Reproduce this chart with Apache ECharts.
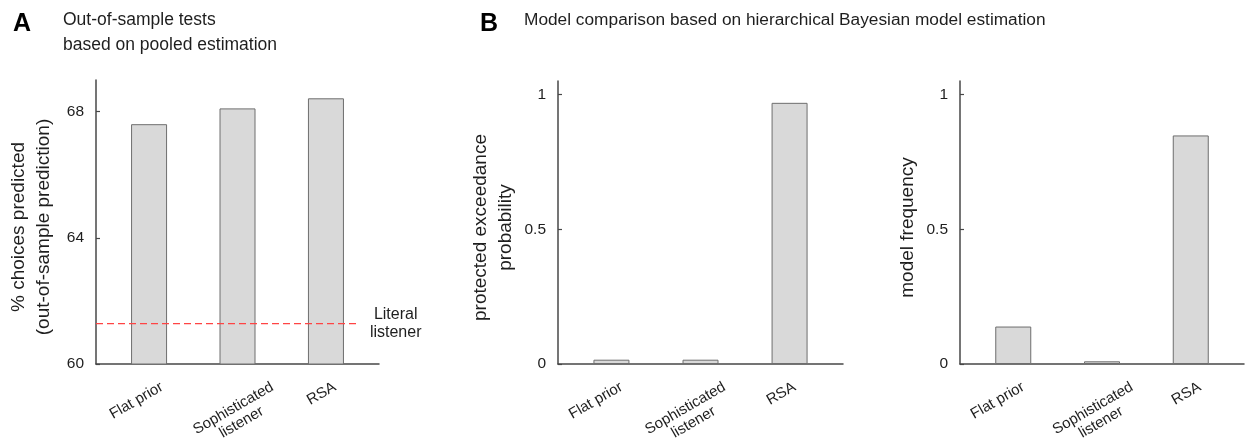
<!DOCTYPE html>
<html><head><meta charset="utf-8">
<script src="https://cdn.jsdelivr.net/npm/echarts@6/dist/echarts.min.js"></script>
<style>html,body{margin:0;padding:0;background:#fff}#c{width:1245px;height:442px}</style>
</head><body><div id="c"></div>
<script>
// ---- data ----
const categories = ['Flat prior', 'Sophisticated\nlistener', 'RSA'];
const categoryX = [1, 2, 3];
const pctPredicted = [67.6, 68.1, 68.42];
const literalListener = 61.28;
const literalLineX = [0.4, 3.35];
const exceedanceProb = [0.016, 0.016, 0.969];
const modelFrequency = [0.139, 0.010, 0.848];
const ticksA = [60, 64, 68];
const ticksB = [0, 0.5, 1];
const ticksBLabels = ['0', '0.5', '1'];

// ---- style ----
const FONT = 'Liberation Sans, Arial, Helvetica, sans-serif';
const TEXT = '#1e1e1e';
const AXIS = '#474747';
const BAR_FILL = '#d9d9d9';
const BAR_EDGE = '#6e6e6e';
const grids = [
  {left: 96, top: 80, width: 283, height: 284},
  {left: 558, top: 81, width: 285, height: 283},
  {left: 960, top: 81, width: 284, height: 283}
];
// label anchor nudges (px) per panel, to mimic original label placement
const labelNudge = [[9, 31, 5], [6, 20, 1], [6, 26, 5]];

function xAxisFor(gi) {
  const ppu = grids[gi].width / 3.2;
  return {
    type: 'value', gridIndex: gi, min: 0.4, max: 3.6,
    axisLine: {show: true, onZero: false, lineStyle: {color: AXIS, width: 1.5}},
    axisTick: {show: false}, splitLine: {show: false},
    axisLabel: {
      customValues: categoryX.map((x, i) => x + labelNudge[gi][i] / ppu),
      formatter: v => categories[Math.floor(v + 1e-6) - 1].split('\n').map(s => '{c|' + s + '}').join('\n'),
      rotate: 30, align: 'right', verticalAlign: 'top', margin: 15,
      color: TEXT, fontFamily: FONT, fontSize: 15,
      rich: {c: {fontSize: 15, lineHeight: 16, align: 'center', color: TEXT, fontFamily: FONT}}
    }
  };
}
function yAxisFor(gi, min, max, ticks, fmt, name) {
  return {
    type: 'value', gridIndex: gi, min: min, max: max,
    axisLine: {show: true, onZero: false, lineStyle: {color: AXIS, width: 1.5}},
    axisTick: {show: true, inside: true, length: 4, customValues: ticks, lineStyle: {color: AXIS, width: 1.2}},
    axisLabel: {customValues: ticks, formatter: fmt, margin: 12, fontSize: 15.5, color: TEXT, fontFamily: FONT},
    splitLine: {show: false},
    name: name, nameLocation: 'middle', nameGap: 40,
    nameTextStyle: {fontSize: 19, lineHeight: 25, color: TEXT, fontFamily: FONT, padding: [0, 10, 0, 0]}
  };
}
function barSeries(gi, values) {
  return {
    type: 'bar', xAxisIndex: gi, yAxisIndex: gi, barWidth: 36,
    data: categoryX.map((x, i) => [x, values[i]]),
    itemStyle: {color: BAR_FILL, borderColor: BAR_EDGE, borderWidth: 1},
    clip: true
  };
}

const chart = echarts.init(document.getElementById('c'), null, {renderer: 'canvas'});
chart.setOption({
  animation: false,
  backgroundColor: '#fff',
  textStyle: {fontFamily: FONT},
  title: [
    {text: 'A', left: 13, top: 12, padding: 0, textStyle: {fontSize: 25, fontWeight: 'bold', color: '#000', fontFamily: FONT, lineHeight: 25}},
    {text: 'Out-of-sample tests\nbased on pooled estimation', left: 63, top: 8, padding: 0,
     textStyle: {fontSize: 17.5, lineHeight: 25, fontWeight: 'normal', color: TEXT, fontFamily: FONT}},
    {text: 'B', left: 480, top: 12, padding: 0, textStyle: {fontSize: 25, fontWeight: 'bold', color: '#000', fontFamily: FONT, lineHeight: 25}},
    {text: 'Model comparison based on hierarchical Bayesian model estimation', left: 524, top: 8, padding: 0,
     textStyle: {fontSize: 17.3, lineHeight: 25, fontWeight: 'normal', color: TEXT, fontFamily: FONT}}
  ],
  grid: grids.map(g => Object.assign({containLabel: false, outerBoundsMode: 'none'}, g)),
  xAxis: [xAxisFor(0), xAxisFor(1), xAxisFor(2)],
  yAxis: [
    yAxisFor(0, 60, 69, ticksA, v => String(v), '% choices predicted\n(out-of-sample prediction)'),
    yAxisFor(1, 0, 1.05, ticksB, v => ticksBLabels[ticksB.indexOf(v)], 'protected exceedance\nprobability'),
    yAxisFor(2, 0, 1.05, ticksB, v => ticksBLabels[ticksB.indexOf(v)], 'model frequency')
  ],
  series: [
    barSeries(0, pctPredicted),
    {
      type: 'line', xAxisIndex: 0, yAxisIndex: 0, symbol: 'none', clip: false, z: 5,
      data: literalLineX.map(x => [x, literalListener]),
      lineStyle: {color: '#ff4444', width: 1.3, type: [7, 4]},
      endLabel: {show: true, formatter: '{c|Literal}\n{c|listener}', distance: 13,
        rich: {c: {fontSize: 16, lineHeight: 18, align: 'center', color: TEXT, fontFamily: FONT}}}
    },
    barSeries(1, exceedanceProb),
    barSeries(2, modelFrequency)
  ]
});
</script></body></html>
